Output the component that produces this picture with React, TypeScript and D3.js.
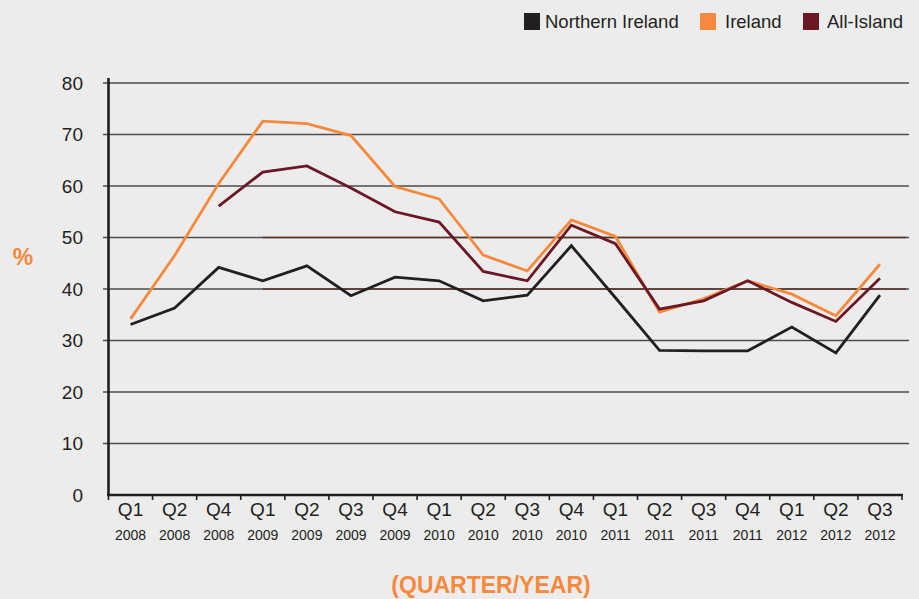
import React from 'react'
import * as d3 from 'd3'

// quarters along the x axis
const quarters = ['Q1', 'Q2', 'Q4', 'Q1', 'Q2', 'Q3', 'Q4', 'Q1', 'Q2', 'Q3', 'Q4', 'Q1', 'Q2', 'Q3', 'Q4', 'Q1', 'Q2', 'Q3']
const years = ['2008', '2008', '2008', '2009', '2009', '2009', '2009', '2010', '2010', '2010', '2010', '2011', '2011', '2011', '2011', '2012', '2012', '2012']

// values in %
const northernIreland = [33.1, 36.3, 44.2, 41.6, 44.5, 38.7, 42.3, 41.6, 37.7, 38.8, 48.4, 38.3, 28.1, 28.0, 28.0, 32.6, 27.6, 38.8]
const ireland = [34.2, 46.5, 60.5, 72.6, 72.1, 69.8, 59.9, 57.5, 46.6, 43.5, 53.4, 50.2, 35.5, 38.1, 41.6, 39.0, 34.8, 44.8]
const allIsland = [null, null, 56.1, 62.7, 63.9, 59.6, 55.0, 53.0, 43.4, 41.6, 52.4, 48.8, 36.1, 37.7, 41.6, 37.4, 33.7, 42.1]

const yTicks = [0, 10, 20, 30, 40, 50, 60, 70, 80]

const series = [
	{ name: 'Northern Ireland', values: northernIreland, color: '#231f20' },
	{ name: 'Ireland', values: ireland, color: '#f6893b' },
	{ name: 'All-Island', values: allIsland, color: '#6c1724' },
]

const font = '"Liberation Sans", Arial, sans-serif'

export default function App() {
	const width = 919
	const height = 599

	const idx = quarters.map((_, i) => String(i))

	const x = d3.scaleBand<string>()
		.domain(idx)
		.range([108.5, 902])
		.padding(0)

	const y = d3.scaleLinear()
		.domain([0, 80])
		.range([495, 83])

	const cx = (i: number) => (x(String(i)) as number) + x.bandwidth() / 2

	const line = d3.line<number | null>()
		.defined(d => d !== null)
		.x((_, i) => cx(i))
		.y(d => y(d as number))

	// boundaries between bands for the x ticks
	const bounds = d3.range(quarters.length + 1).map(i => 108.5 + i * x.bandwidth())

	const brownFrom = cx(3)

	return (
		<svg width={width} height={height} style={{ position: 'absolute', left: 0, top: 0, background: '#ececec' }}>
			<rect width={width} height={height} fill="#ececec" />

			{/* grid */}
			{yTicks.filter(t => t > 0).map(t => (
				<g key={t}>
					<line x1={103} x2={909} y1={y(t)} y2={y(t)} stroke="#4d4d4d" strokeWidth={1.6} />
					{(t === 40 || t === 50) && (
						<line x1={brownFrom} x2={906} y1={y(t)} y2={y(t)} stroke="#5b3526" strokeWidth={1.6} />
					)}
				</g>
			))}

			{/* y labels */}
			{yTicks.map(t => (
				<text key={t} x={83} y={y(t)} dy="0.36em" textAnchor="end" fontFamily={font} fontSize={19} fill="#231f20">{t}</text>
			))}

			{/* lines */}
			{series.map(s => (
				<path key={s.name} d={line(s.values) || ''} fill="none" stroke={s.color} strokeWidth={2.8} />
			))}

			{/* axes */}
			<line x1={108.5} x2={108.5} y1={78} y2={496} stroke="#231f20" strokeWidth={2.6} />
			<line x1={107} x2={903} y1={495} y2={495} stroke="#231f20" strokeWidth={2.6} />
			{bounds.map((b, i) => (
				<line key={i} x1={b} x2={b} y1={495} y2={500} stroke="#231f20" strokeWidth={1.6} />
			))}

			{/* x labels */}
			{quarters.map((q, i) => (
				<g key={i}>
					<text x={cx(i)} y={516} textAnchor="middle" fontFamily={font} fontSize={19} fill="#231f20">{q}</text>
					<text x={cx(i)} y={540} textAnchor="middle" fontFamily={font} fontSize={14} fill="#231f20">{years[i]}</text>
				</g>
			))}

			<text x={491} y={593} textAnchor="middle" fontFamily={font} fontSize={23} fontWeight="bold" fill="#f6893b">(QUARTER/YEAR)</text>
			<text x={23} y={265} textAnchor="middle" fontFamily={font} fontSize={23} fontWeight="bold" fill="#f6893b">%</text>

			{/* legend */}
			{[
				{ s: series[0], bx: 524, tx: 545 },
				{ s: series[1], bx: 700, tx: 725 },
				{ s: series[2], bx: 803, tx: 827 },
			].map(l => (
				<g key={l.s.name}>
					<rect x={l.bx} y={13} width={16} height={17} fill={l.s.color} />
					<text x={l.tx} y={28} fontFamily={font} fontSize={18.5} fill="#231f20">{l.s.name}</text>
				</g>
			))}
		</svg>
	)
}
